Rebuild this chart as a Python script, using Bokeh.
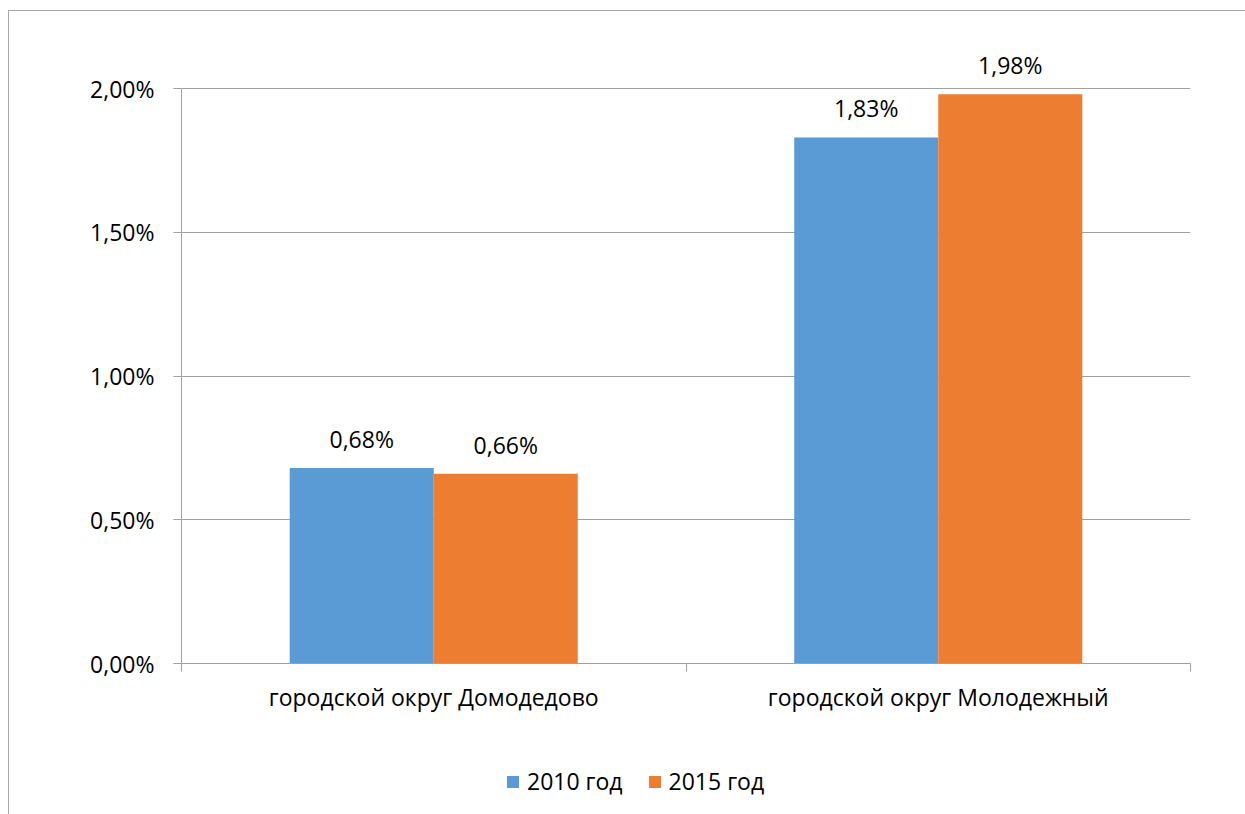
from bokeh.plotting import figure
from bokeh.layouts import column
from bokeh.models import (ColumnDataSource, Range1d, FixedTicker, CustomJSTickFormatter,
                          Legend, LegendItem, LabelSet)
from bokeh.core.properties import value
from bokeh.transform import dodge
from bokeh.embed import file_html
from bokeh.resources import INLINE

categories = ["городской округ Домодедово", "городской округ Молодежный"]
series_names = ["2010 год", "2015 год"]
values_2010 = [0.68, 1.83]
values_2015 = [0.66, 1.98]
y_ticks = [0.0, 0.5, 1.0, 1.5, 2.0]

colors = ["#5B9BD5", "#ED7D31"]
FONT = "Open Sans"
GRID = "#a0a0a0"

def fmt(v):
    return f"{v:.2f}".replace(".", ",") + "%"

xc = [i + 0.5 for i in range(len(categories))]
src = ColumnDataSource(dict(
    x=xc,
    v2010=values_2010,
    v2015=values_2015,
    l2010=[fmt(v) for v in values_2010],
    l2015=[fmt(v) for v in values_2015],
))

# layout (pixels)
PX_PER_UNIT = 287.5      # 575 px for 0..2 %
EXTRA_TOP = 64           # headroom above 2,00% for the data labels
y_max = y_ticks[-1]
y_end = y_max + EXTRA_TOP / PX_PER_UNIT

p = figure(frame_width=1009, frame_height=575 + EXTRA_TOP,
           output_backend="svg", toolbar_location=None,
           x_range=Range1d(0, len(categories)), y_range=Range1d(0, y_end),
           min_border_left=172, min_border_right=55, min_border_top=77 - EXTRA_TOP,
           min_border_bottom=60)
p.outline_line_color = None
p.background_fill_color = "white"
p.border_fill_color = "white"

bw = 0.2855
r1 = p.vbar(x=dodge("x", -bw / 2, range=p.x_range), top="v2010", width=bw, bottom=0,
            source=src, fill_color=colors[0], line_color=None)
r2 = p.vbar(x=dodge("x", bw / 2, range=p.x_range), top="v2015", width=bw, bottom=0,
            source=src, fill_color=colors[1], line_color=None)

for col, lab, off in [("v2010", "l2010", -bw / 2), ("v2015", "l2015", bw / 2)]:
    ls = LabelSet(x=dodge("x", off, range=p.x_range), y=col, text=lab, source=src,
                  text_align="center", text_baseline="bottom", y_offset=13,
                  text_font=value(FONT), text_font_size="23px", text_color="black")
    p.add_layout(ls)

# y axis
p.yaxis.ticker = FixedTicker(ticks=y_ticks)
p.yaxis.bounds = (0, y_max)
p.yaxis.formatter = CustomJSTickFormatter(code="return tick.toFixed(2).replace('.', ',') + '%';")
p.yaxis.axis_line_color = GRID
p.yaxis.major_tick_line_color = GRID
p.yaxis.major_tick_in = 0
p.yaxis.major_tick_out = 8
p.yaxis.minor_tick_line_color = None
p.yaxis.major_label_standoff = 19
p.yaxis.major_label_text_font = FONT
p.yaxis.major_label_text_font_size = "23px"
p.yaxis.major_label_text_color = "black"

# x axis
p.xaxis.ticker = FixedTicker(ticks=xc, minor_ticks=list(range(len(categories) + 1)))
p.xaxis.major_label_overrides = {x: c for x, c in zip(xc, categories)}
p.xaxis.axis_line_color = GRID
p.xaxis.major_tick_line_color = None
p.xaxis.minor_tick_line_color = GRID
p.xaxis.minor_tick_in = 0
p.xaxis.minor_tick_out = 8
p.xaxis.major_label_standoff = 9
p.xaxis.major_label_text_font = FONT
p.xaxis.major_label_text_font_size = "23px"
p.xaxis.major_label_text_color = "black"

p.xgrid.grid_line_color = None
p.ygrid.ticker = FixedTicker(ticks=y_ticks)
p.ygrid.grid_line_color = GRID

# legend strip below the chart
p2 = figure(width=1236, height=91, output_backend="svg", toolbar_location=None,
            x_axis_location=None, y_axis_location=None,
            x_range=Range1d(0, 1), y_range=Range1d(0, 1),
            min_border_left=0, min_border_right=0, min_border_top=0, min_border_bottom=0)
p2.outline_line_color = None
p2.grid.visible = False
p2.border_fill_color = "white"
# zero-size swatch carriers for the legend
lr1 = p2.vbar(x=[0], top=[0], bottom=0, width=0, fill_color=colors[0], line_color=None)
lr2 = p2.vbar(x=[0], top=[0], bottom=0, width=0, fill_color=colors[1], line_color=None)

legend = Legend(items=[LegendItem(label=series_names[0], renderers=[lr1]),
                       LegendItem(label=series_names[1], renderers=[lr2])],
                orientation="horizontal", location=(324, 17),
                glyph_width=15, glyph_height=15, label_text_font=FONT,
                label_text_font_size="23px", label_text_color="black",
                label_standoff=7, spacing=24,
                border_line_color=None, background_fill_alpha=0,
                margin=0, padding=0, label_height=15)
p2.add_layout(legend)

layout = column(p, p2, spacing=0)
layout.styles = {"border-left": "1px solid #a6a6a6", "border-top": "1px solid #a6a6a6",
                 "margin-top": "10px", "margin-left": "8px"}

open("out.html", "w").write(file_html(layout, INLINE))
